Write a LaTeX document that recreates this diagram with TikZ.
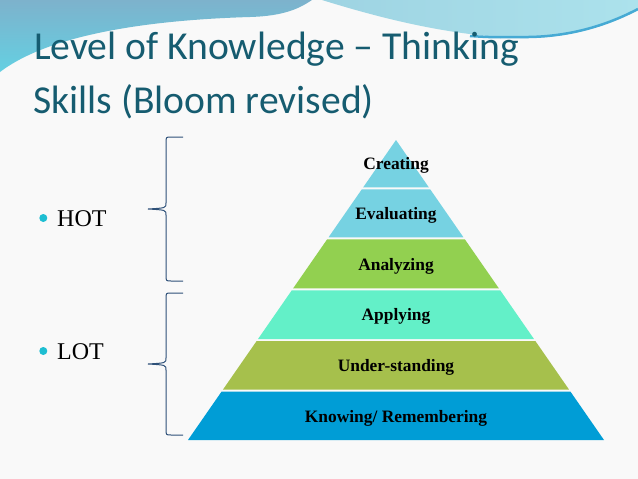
\documentclass[tikz,border=0pt]{standalone}
\usepackage{fontspec}
\setmainfont{Liberation Serif}
\newfontfamily\titlefont{Carlito}
\usetikzlibrary{positioning}
\definecolor{pagebg}{RGB}{249,249,249}
\definecolor{titleteal}{RGB}{22,92,112}
\definecolor{swooshtop}{RGB}{125,178,204}
\definecolor{swooshlow}{RGB}{100,208,226}
\definecolor{swooshlight}{RGB}{172,226,236}
\definecolor{swooshedge}{RGB}{70,170,212}
\definecolor{bracecol}{RGB}{45,80,120}
\definecolor{bulletcyan}{RGB}{30,190,210}
\definecolor{lvlblue}{RGB}{118,210,226}
\definecolor{lvlgreen}{RGB}{146,208,80}
\definecolor{lvlmint}{RGB}{99,240,200}
\definecolor{lvlolive}{RGB}{166,192,76}
\definecolor{lvldeep}{RGB}{0,157,214}

\begin{document}
\begin{tikzpicture}[x=1pt,y=-1pt,
  titletext/.style={font=\titlefont\fontsize{39.6}{46}\selectfont,text=titleteal,anchor=base west,inner sep=0pt},
  lvllabel/.style={font=\fontsize{17.4}{20}\selectfont\bfseries,text=black,anchor=base,inner sep=0pt},
  bullet/.style={circle,fill=bulletcyan,inner sep=0pt,minimum size=8pt},
  bullettext/.style={font=\fontsize{24}{28}\selectfont,anchor=base west,inner sep=0pt},
  bracket/.style={draw=bracecol,line width=1pt}]
\useasboundingbox (0,0) rectangle (638,479);
\fill[pagebg] (0,0) rectangle (638,479);

% top swooshes
\shade[top color=swooshtop,bottom color=swooshlow] (0,0) -- (0,72)
  .. controls (50,34) and (150,20) .. (250,17) .. controls (285,16) and (300,8) .. (312,0) -- cycle;
\shade[left color=swooshlight!70!swooshtop,right color=swooshlight] (322,0)
  .. controls (380,18) and (450,36) .. (520,38) .. controls (575,39) and (615,22) .. (638,10) -- (638,0) -- cycle;
\draw[swooshedge,line width=2.5pt] (470,36) .. controls (500,38) and (505,37) .. (520,37)
  .. controls (575,38) and (615,21) .. (638,9);

\node[titletext] (title1) at (34,59) {Level of Knowledge – Thinking};
\node[titletext] (title2) at (33,113) {Skills (Bloom revised)};

% pyramid
\foreach \lbl/\col/\ya/\yb [count=\i] in {Creating/lvlblue/140/187.3,Evaluating/lvlblue/189.3/237.3,
    Analyzing/lvlgreen/239.3/288.3,Applying/lvlmint/290.3/339,Under-standing/lvlolive/341/389.7,
    {Knowing/ Remembering}/lvldeep/391.7/440}{
  \pgfmathsetmacro\wa{(\ya-140)*0.69333}
  \pgfmathsetmacro\wb{(\yb-140)*0.69333}
  \fill[\col] (396-\wa,\ya) -- (396+\wa,\ya) -- (396+\wb,\yb) -- (396-\wb,\yb) -- cycle;
  \node[lvllabel] (lvl\i) at (396,{(\ya+\yb)/2+6.3}) {\lbl};
}

% HOT / LOT
\node[bullet] (hotdot) at (43.3,218) {};
\node[bullettext] (hot) at (57,226) {HOT};
\node[bullet] (lotdot) at (43.3,351) {};
\node[bullettext] (lot) at (57,359) {LOT};

\foreach \t/\b in {137/281,293/435}{
  \pgfmathsetmacro\m{(\t+\b)/2}
  \draw[bracket] (183,\t) -- (171,\t) .. controls (166,\t) .. (166,\t+6) -- (166,\m-6)
    .. controls (166,\m-1) .. (148,\m) .. controls (166,\m+1) .. (166,\m+6) -- (166,\b-6)
    .. controls (166,\b) .. (171,\b) -- (183,\b);
}
\end{tikzpicture}
\end{document}
